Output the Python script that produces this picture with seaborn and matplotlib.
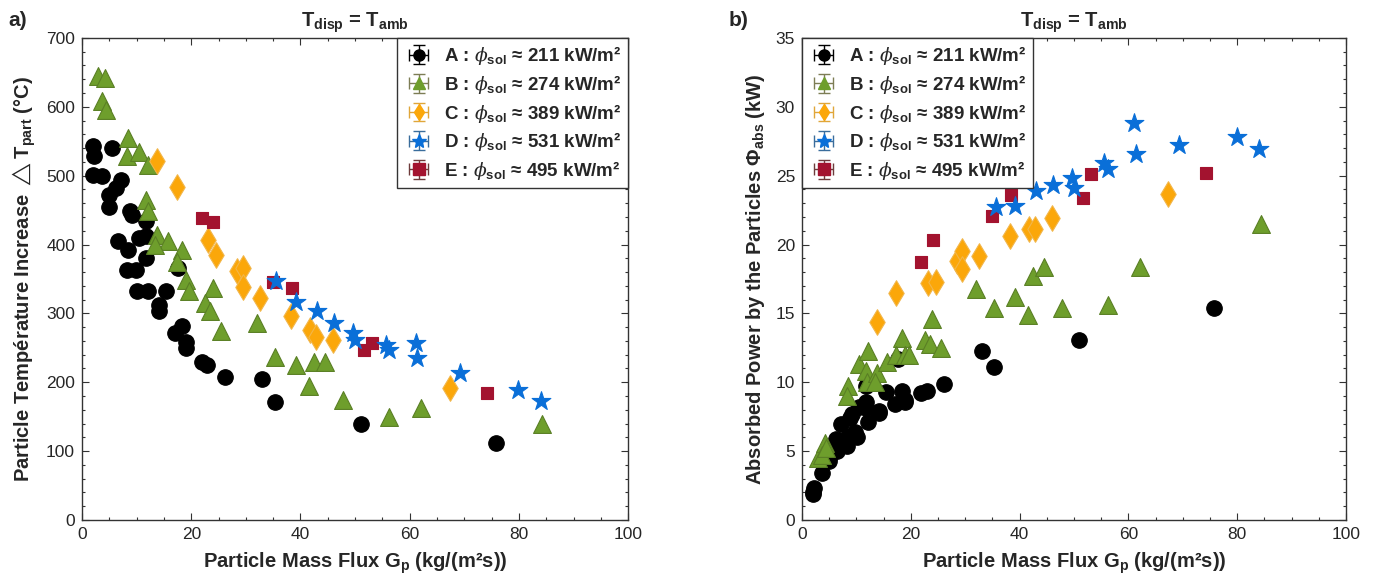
import numpy as np
import matplotlib
matplotlib.use("Agg")
import matplotlib.pyplot as plt
from matplotlib.ticker import MultipleLocator
import seaborn as sns

# --- data: (Gp, dT_part, Phi_abs) per case ---
a_gp = [2.0, 2.2, 2.0, 3.6, 5.4, 4.9, 4.9, 6.2, 6.5, 7.2, 8.5, 8.2, 8.8, 9.2, 9.8, 10.1,
        10.5, 11.8, 11.8, 11.8, 12.1, 14.1, 14.1, 15.4, 17.0, 17.6, 18.3, 19.0, 19.0,
        21.9, 22.9, 26.1, 33.0, 35.3, 51.0, 75.8]
a_dt = [543, 528, 501, 499, 540, 472, 455, 482, 405, 494, 392, 363, 448, 443, 363, 332,
        409, 434, 412, 380, 332, 312, 303, 333, 271, 366, 281, 259, 250,
        230, 225, 207, 205, 172, 139, 112]
a_phi = [1.9, 2.3, 2.0, 3.4, 5.2, 4.5, 4.3, 5.9, 5.0, 7.0, 6.0, 5.4, 7.4, 7.7, 6.4, 6.0,
         8.2, 9.7, 8.6, 8.1, 7.1, 7.9, 7.8, 9.3, 8.4, 11.7, 9.4, 8.7, 8.6,
         9.2, 9.4, 9.9, 12.3, 11.1, 13.1, 15.4]

b_gp = [2.9, 4.2, 3.6, 4.4, 8.5, 8.2, 10.5, 12.1, 11.8, 12.0, 13.7, 15.7, 13.4, 18.3,
        17.3, 19.0, 19.6, 23.9, 22.6, 23.5, 25.5, 32.0, 35.3, 39.2, 42.5, 44.4, 41.5,
        47.7, 56.2, 62.1, 84.3]
b_dt = [644, 642, 608, 596, 555, 528, 535, 515, 465, 448, 414, 405, 399, 392,
        375, 349, 332, 337, 315, 303, 274, 286, 237, 225, 230, 230, 194,
        174, 150, 162, 140]
b_phi = [4.5, 5.6, 4.7, 5.2, 9.7, 9.0, 11.3, 12.3, 10.8, 10.0, 10.7, 11.5, 10.0, 13.2,
         12.0, 12.0, 12.0, 14.6, 13.1, 12.8, 12.5, 16.8, 15.4, 16.2, 17.7, 18.4, 14.9,
         15.4, 15.6, 18.4, 21.5]

c_gp = [13.7, 17.3, 23.1, 24.6, 28.4, 29.4, 29.4, 32.5, 38.2, 41.8, 42.8, 46.0, 67.3]
c_dt = [521, 483, 407, 385, 361, 366, 339, 322, 296, 276, 266, 262, 191]
c_phi = [14.4, 16.5, 17.2, 17.3, 18.8, 19.5, 18.2, 19.2, 20.6, 21.1, 21.1, 21.9, 23.7]

d_gp = [35.6, 39.2, 43.1, 46.1, 49.7, 50.0, 55.6, 56.2, 61.1, 61.4, 69.3, 79.9, 84.0]
d_dt = [347, 317, 303, 286, 271, 262, 254, 247, 257, 235, 213, 189, 173]
d_phi = [22.7, 22.8, 23.9, 24.3, 24.8, 24.1, 25.9, 25.5, 28.8, 26.6, 27.2, 27.8, 26.9]

e_gp = [21.9, 24.0, 35.0, 38.4, 51.6, 53.1, 74.2]
e_dt = [438, 433, 346, 337, 247, 257, 184]
e_phi = [18.7, 20.3, 22.1, 23.6, 23.4, 25.1, 25.2]

case_names = ["A", "B", "C", "D", "E"]
case_flux = [211, 274, 389, 531, 495]

# style per case: marker, size, face, edge, errorbar colour
styles = {
    "A": dict(marker="o", s=125, color="#000000", edge="#000000", bar="#000000"),
    "B": dict(marker="^", s=165, color="#6e9e2c", edge="#5a7f25", bar="#7d7d55"),
    "C": dict(marker="d", s=170, color="#fba70a", edge="#f2b64a", bar="#e0a63a"),
    "D": dict(marker="*", s=200, color="#0a6fd8", edge="#0a6fd8", bar="#3a6d9c"),
    "E": dict(marker="s", s=75, color="#a3132f", edge="#a3132f", bar="#6e3b3b"),
}
series = {
    "A": (a_gp, a_dt, a_phi),
    "B": (b_gp, b_dt, b_phi),
    "C": (c_gp, c_dt, c_phi),
    "D": (d_gp, d_dt, d_phi),
    "E": (e_gp, e_dt, e_phi),
}
draw_order = ["A", "B", "C", "E", "D"]

sns.set_style("ticks")
plt.rcParams["font.family"] = ["Liberation Sans", "DejaVu Sans"]
plt.rcParams["mathtext.fontset"] = "custom"
plt.rcParams["mathtext.rm"] = "Liberation Sans"
plt.rcParams["mathtext.it"] = "DejaVu Serif:italic"
plt.rcParams["mathtext.bf"] = "Liberation Sans:bold"
plt.rcParams["mathtext.fallback"] = "cm"

fig = plt.figure(figsize=(13.79, 5.88), dpi=100)
ax_a = fig.add_axes([0.0595, 0.1156, 0.396, 0.82])
ax_b = fig.add_axes([0.5816, 0.1156, 0.3945, 0.82])


def legend_label(name, flux):
    return name + r" : $\phi_{\mathbf{sol}}$ ≈ " + f"{flux} kW/m²"


def draw_panel(ax, col, ylim, ymajor, yminor, ylabel, loc):
    for name in draw_order:
        st = styles[name]
        x = series[name][0]
        y = series[name][col]
        sns.scatterplot(x=x, y=y, ax=ax, marker=st["marker"], s=st["s"],
                        color=st["color"], edgecolor=st["edge"], linewidth=0.8,
                        zorder=3, legend=False)

    handles = []
    labels = []
    for name, flux in zip(case_names, case_flux):
        st = styles[name]
        h = ax.errorbar([np.nan], [np.nan], xerr=[1], yerr=[1], fmt=st["marker"],
                        markersize=8 if name != "D" else 10, color=st["bar"],
                        markerfacecolor=st["color"], markeredgecolor=st["color"],
                        ecolor=st["bar"], elinewidth=1.0, capsize=4)
        handles.append(h)
        labels.append(legend_label(name, flux))
    leg = ax.legend(handles, labels, loc=loc, borderaxespad=0, fancybox=False,
                    framealpha=1, edgecolor="#333333", handlelength=1.6,
                    prop=dict(size=13.5, weight="bold"), labelspacing=0.3,
                    handletextpad=0.55, borderpad=0.35)
    leg.get_frame().set_linewidth(1.0)

    ax.set_xlim(0, 100)
    ax.set_ylim(*ylim)
    ax.xaxis.set_major_locator(MultipleLocator(20))
    ax.xaxis.set_minor_locator(MultipleLocator(5))
    ax.yaxis.set_major_locator(MultipleLocator(ymajor))
    ax.yaxis.set_minor_locator(MultipleLocator(yminor))
    ax.tick_params(which="both", direction="in", top=True, right=True,
                   color="#333333", width=0.8)
    ax.tick_params(which="major", length=5, labelsize=12.5, pad=5)
    ax.tick_params(which="minor", length=2.5)
    for sp in ax.spines.values():
        sp.set_color("#333333")
        sp.set_linewidth(1.0)
    ax.set_xlabel(r"Particle Mass Flux $\mathbf{G_p}$ (kg/(m²s))", fontsize=14.5,
                  fontweight="bold", labelpad=6)
    ax.set_ylabel(ylabel, fontsize=14.5, fontweight="bold", labelpad=6)
    ax.set_title(r"$\mathbf{T_{disp}}$ = $\mathbf{T_{amb}}$", fontsize=14.5,
                 fontweight="bold", pad=8)


draw_panel(ax_a, 1, (0, 700), 100, 20,
           r"Particle Température Increase $\triangle\mathbf{T_{part}}$ (°C)", "upper right")
draw_panel(ax_b, 2, (0, 35), 5, 1,
           r"Absorbed Power by the Particles $\mathbf{\Phi_{abs}}$ (kW)", "upper left")

fig.text(0.006, 0.965, "a)", fontsize=15, fontweight="bold", va="center")
fig.text(0.528, 0.965, "b)", fontsize=15, fontweight="bold", va="center")

fig.savefig("out.png", dpi=100)
